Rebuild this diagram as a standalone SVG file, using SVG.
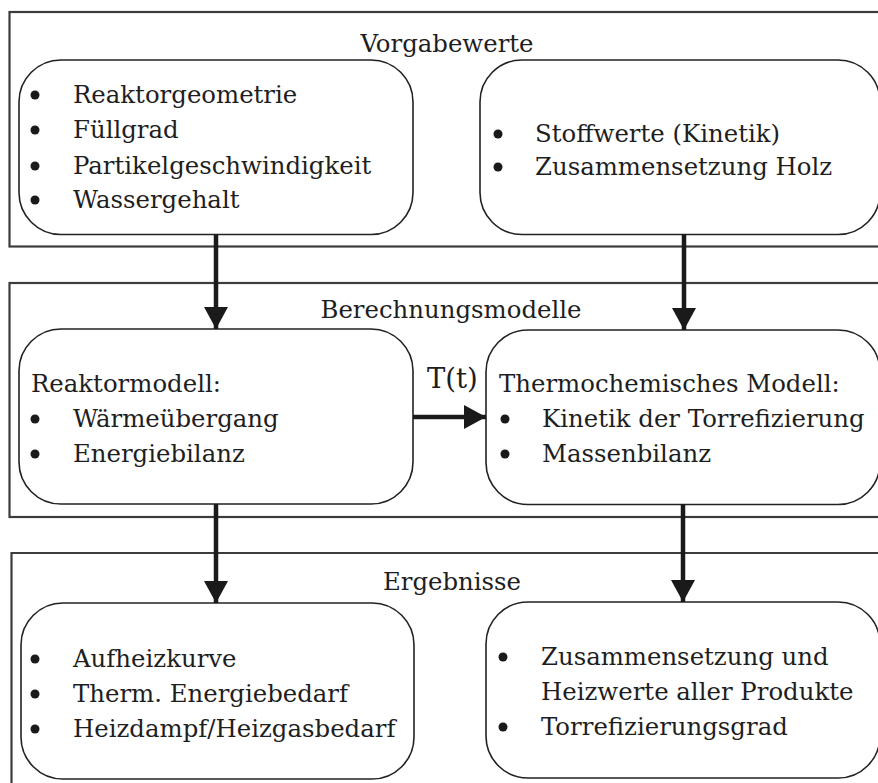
<svg xmlns="http://www.w3.org/2000/svg" width="878" height="783" viewBox="0 0 878 783">
  <style>
    .panel { fill: none; stroke: #3c3c3c; stroke-width: 2.2; }
    .box { fill: #ffffff; stroke: #222222; stroke-width: 1.6; }
    text { font-family: "DejaVu Serif", "Liberation Serif", serif; font-size: 24.4px; fill: #1e1e1e; }
    .title { text-anchor: middle; }
    .bullet { fill: #1a1a1a; }
    .conn { stroke: #1a1a1a; stroke-width: 4.5; fill: none; }
  </style>
  <defs>
    <marker id="head" markerUnits="userSpaceOnUse" markerWidth="24" markerHeight="26" refX="22" refY="12" orient="auto">
      <path d="M0,0 L22,12 L0,24 Z" fill="#1a1a1a"/>
    </marker>
  </defs>

  <!-- Panels -->
  <g id="panel-vorgabewerte">
    <rect class="panel" x="9.5" y="12" width="880" height="234.5"/>
    <text class="title" x="447" y="52">Vorgabewerte</text>
  </g>
  <g id="panel-berechnungsmodelle">
    <rect class="panel" x="9.5" y="283" width="880" height="234"/>
    <text class="title" x="451" y="318">Berechnungsmodelle</text>
  </g>
  <g id="panel-ergebnisse">
    <path class="panel" d="M11.5,790 V553 H890"/>
    <text class="title" x="452" y="590">Ergebnisse</text>
  </g>

  <!-- Nodes -->
  <g id="node-reaktorparameter">
    <rect class="box" x="19" y="60" width="394" height="174.5" rx="42" ry="42"/>
    <circle class="bullet" cx="35" cy="95" r="4.5"/>
    <circle class="bullet" cx="35" cy="130" r="4.5"/>
    <circle class="bullet" cx="35" cy="166" r="4.5"/>
    <circle class="bullet" cx="35" cy="200" r="4.5"/>
    <text x="73" y="103">Reaktorgeometrie</text>
    <text x="73" y="138">Füllgrad</text>
    <text x="73" y="174">Partikelgeschwindigkeit</text>
    <text x="73" y="208">Wassergehalt</text>
  </g>

  <g id="node-stoffwerte">
    <rect class="box" x="480" y="60" width="400" height="174.5" rx="42" ry="42"/>
    <circle class="bullet" cx="498" cy="134" r="4.5"/>
    <circle class="bullet" cx="498" cy="167" r="4.5"/>
    <text x="535" y="142">Stoffwerte (Kinetik)</text>
    <text x="535" y="175">Zusammensetzung Holz</text>
  </g>

  <g id="node-reaktormodell">
    <rect class="box" x="19" y="329" width="394" height="175" rx="42" ry="42"/>
    <text x="31" y="392">Reaktormodell:</text>
    <circle class="bullet" cx="35" cy="419" r="4.5"/>
    <circle class="bullet" cx="35" cy="454" r="4.5"/>
    <text x="73" y="427">Wärmeübergang</text>
    <text x="73" y="462">Energiebilanz</text>
  </g>

  <g id="node-thermochemisch">
    <rect class="box" x="486" y="330" width="394" height="174.5" rx="42" ry="42"/>
    <text x="499" y="392">Thermochemisches Modell:</text>
    <circle class="bullet" cx="505" cy="419" r="4.5"/>
    <circle class="bullet" cx="505" cy="454" r="4.5"/>
    <text x="542" y="427">Kinetik der Torrefizierung</text>
    <text x="542" y="462">Massenbilanz</text>
  </g>

  <g id="node-ergebnisse-reaktor">
    <rect class="box" x="21" y="603" width="393" height="176" rx="42" ry="42"/>
    <circle class="bullet" cx="35" cy="659" r="4.5"/>
    <circle class="bullet" cx="35" cy="694" r="4.5"/>
    <circle class="bullet" cx="35" cy="729" r="4.5"/>
    <text x="73" y="667">Aufheizkurve</text>
    <text x="73" y="702">Therm. Energiebedarf</text>
    <text x="73" y="737">Heizdampf/Heizgasbedarf</text>
  </g>

  <g id="node-ergebnisse-produkte">
    <rect class="box" x="486" y="602" width="394" height="176" rx="42" ry="42"/>
    <circle class="bullet" cx="503" cy="657" r="4.5"/>
    <circle class="bullet" cx="503" cy="727" r="4.5"/>
    <text x="541" y="665">Zusammensetzung und</text>
    <text x="541" y="700">Heizwerte aller Produkte</text>
    <text x="541" y="735">Torrefizierungsgrad</text>
  </g>

  <!-- Connectors -->
  <g id="connectors">
    <line class="conn" x1="216" y1="234.5" x2="216" y2="329" marker-end="url(#head)"/>
    <line class="conn" x1="684" y1="234.5" x2="684" y2="330" marker-end="url(#head)"/>
    <line class="conn" x1="413" y1="417" x2="486" y2="417" marker-end="url(#head)"/>
    <text x="427" y="388" style="font-size:27.5px">T(t)</text>
    <line class="conn" x1="216" y1="504" x2="216" y2="603" marker-end="url(#head)"/>
    <line class="conn" x1="683" y1="504.5" x2="683" y2="602" marker-end="url(#head)"/>
  </g>
</svg>
